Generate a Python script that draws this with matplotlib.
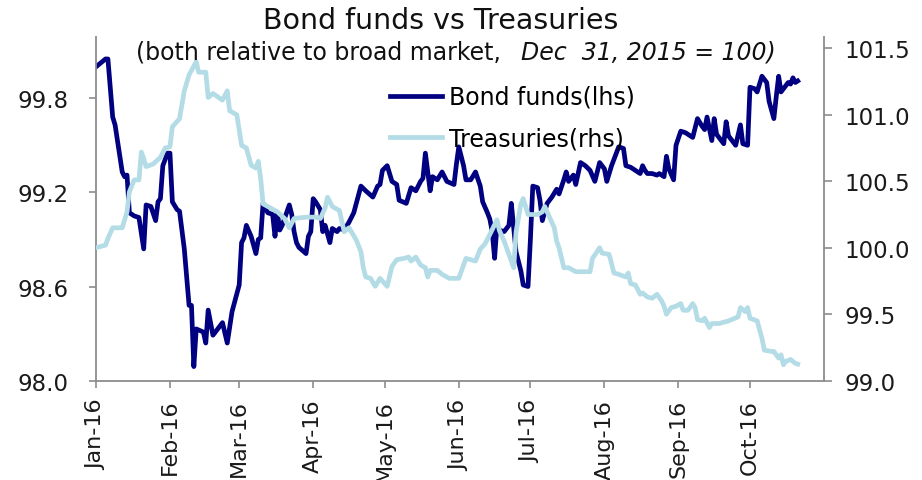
import pandas as pd
import matplotlib
matplotlib.use("Agg")
import matplotlib.pyplot as plt
import matplotlib.dates as mdates

# days since 2016-01-01 and index levels (Dec 31, 2015 = 100)
bond_days = [0, 4, 5, 7, 8, 11, 12, 13, 14, 16, 18, 20, 21, 23, 25, 26, 27, 28, 30, 31,
             32, 34, 35, 37, 39, 40, 41, 42, 45, 46, 47, 49, 53, 55, 57, 60, 61, 62, 63, 65,
             67, 68, 69, 70, 72, 74, 75, 76, 77, 78, 81, 82, 83, 84, 85, 88, 89, 90, 91, 92,
             94, 95, 96, 98, 99, 101, 102, 104, 106, 108, 111, 113, 116, 118, 119, 120, 122, 124, 126, 127,
             130, 131, 132, 134, 136, 137, 138, 140, 141, 143, 145, 147, 150, 151, 152, 154, 155, 157, 159, 161,
             162, 164, 165, 166, 167, 168, 169, 171, 173, 174, 176, 178, 179, 181, 182, 183, 185, 186, 187, 189,
             191, 193, 194, 196, 197, 198, 200, 201, 203, 205, 207, 209, 211, 213, 214, 216, 218, 219, 221, 222,
             224, 226, 228, 229, 230, 231, 233, 235, 236, 238, 239, 240, 242, 243, 245, 247, 250, 252, 254, 255,
             256, 258, 259, 260, 263, 264, 265, 268, 270, 271, 273, 274, 276, 277, 279, 281, 282, 284, 285, 286,
             287, 288, 290, 291, 292, 293, 294]
bond_vals = [100.00, 100.05, 100.05, 99.68, 99.63, 99.33, 99.30, 99.31, 99.07, 99.05, 99.04, 98.84, 99.12, 99.11, 99.02, 99.14, 99.16, 99.37, 99.45, 99.45,
             99.14, 99.09, 99.08, 98.84, 98.48, 98.48, 98.09, 98.33, 98.31, 98.24, 98.45, 98.29, 98.37, 98.24, 98.44, 98.61, 98.88, 98.91, 98.99, 98.92,
             98.81, 98.90, 98.91, 99.13, 99.07, 99.06, 98.92, 99.07, 98.96, 98.99, 99.12, 99.06, 98.95, 98.88, 98.85, 98.81, 98.92, 98.95, 99.16, 99.14,
             99.09, 98.95, 98.99, 98.88, 98.97, 98.95, 98.97, 98.96, 99.01, 99.07, 99.24, 99.21, 99.17, 99.24, 99.25, 99.34, 99.37, 99.27, 99.25, 99.15,
             99.13, 99.18, 99.23, 99.21, 99.27, 99.29, 99.45, 99.21, 99.30, 99.28, 99.33, 99.27, 99.25, 99.38, 99.49, 99.37, 99.28, 99.28, 99.33, 99.24,
             99.14, 99.07, 99.03, 98.95, 98.78, 98.99, 98.96, 98.95, 98.99, 99.13, 98.82, 98.70, 98.61, 98.60, 98.90, 99.24, 99.23, 99.15, 99.02, 99.13,
             99.17, 99.22, 99.19, 99.28, 99.33, 99.27, 99.31, 99.25, 99.39, 99.37, 99.34, 99.27, 99.39, 99.35, 99.27, 99.37, 99.45, 99.49, 99.48, 99.37,
             99.36, 99.34, 99.32, 99.37, 99.34, 99.32, 99.32, 99.31, 99.32, 99.30, 99.43, 99.35, 99.28, 99.50, 99.59, 99.58, 99.55, 99.67, 99.62, 99.60,
             99.68, 99.53, 99.67, 99.57, 99.51, 99.65, 99.56, 99.50, 99.63, 99.51, 99.50, 99.87, 99.86, 99.84, 99.94, 99.90, 99.78, 99.67, 99.81, 99.94,
             99.84, 99.86, 99.90, 99.89, 99.93, 99.90, 99.91]

tsy_days = [0, 4, 5, 7, 11, 13, 14, 16, 18, 19, 20, 21, 24, 27, 29, 31, 32, 35, 37, 39,
            42, 43, 46, 47, 49, 53, 55, 56, 59, 61, 63, 65, 67, 68, 69, 70, 73, 76, 79, 81,
            83, 88, 92, 94, 96, 97, 99, 102, 104, 106, 109, 111, 112, 113, 115, 117, 119, 122, 124, 126,
            129, 131, 132, 134, 136, 138, 139, 140, 143, 145, 148, 152, 155, 157, 159, 161, 163, 165, 168, 169,
            171, 173, 175, 176, 178, 179, 181, 183, 185, 187, 188, 190, 192, 193, 194, 196, 198, 201, 207, 208,
            211, 212, 215, 217, 219, 222, 223, 224, 226, 228, 229, 231, 233, 235, 237, 238, 239, 241, 243, 245,
            246, 248, 250, 251, 252, 254, 255, 257, 258, 261, 265, 269, 270, 272, 273, 274, 277, 279, 280, 283,
            284, 286, 287, 288, 289, 291, 293, 294]
tsy_vals = [100.00, 100.02, 100.07, 100.15, 100.15, 100.27, 100.42, 100.51, 100.51, 100.72, 100.67, 100.61, 100.63, 100.68, 100.75, 100.76, 100.91, 100.97, 101.18, 101.30,
            101.40, 101.32, 101.32, 101.13, 101.16, 101.11, 101.18, 101.03, 101.00, 100.77, 100.75, 100.62, 100.60, 100.65, 100.52, 100.33, 100.30, 100.27, 100.22, 100.15,
            100.22, 100.23, 100.23, 100.22, 100.30, 100.38, 100.31, 100.28, 100.12, 100.15, 100.06, 99.97, 99.85, 99.78, 99.77, 99.71, 99.77, 99.71, 99.86, 99.91,
            99.92, 99.93, 99.90, 99.93, 99.87, 99.85, 99.78, 99.83, 99.83, 99.80, 99.77, 99.77, 99.92, 99.91, 99.90, 99.99, 100.03, 100.10, 100.21, 100.13,
            100.05, 99.95, 99.85, 100.12, 100.33, 100.37, 100.25, 100.25, 100.25, 100.27, 100.31, 100.23, 100.15, 100.05, 100.00, 99.85, 99.85, 99.82, 99.82, 99.92,
            100.00, 99.96, 99.95, 99.81, 99.80, 99.78, 99.81, 99.73, 99.72, 99.65, 99.66, 99.63, 99.62, 99.65, 99.60, 99.56, 99.50, 99.55, 99.56, 99.58,
            99.53, 99.53, 99.58, 99.55, 99.46, 99.45, 99.47, 99.40, 99.43, 99.43, 99.45, 99.48, 99.55, 99.52, 99.55, 99.47, 99.45, 99.32, 99.23, 99.22,
            99.22, 99.17, 99.195, 99.12, 99.145, 99.16, 99.13, 99.125]

start = pd.Timestamp("2016-01-01")
bond_dates = start + pd.to_timedelta(bond_days, unit="D")
tsy_dates = start + pd.to_timedelta(tsy_days, unit="D")
month_ticks = pd.date_range("2016-01-01", "2016-10-01", freq="MS")

navy = "#000080"
light = "#b4dce6"
grey = "#8c8c8c"
ink = "#1a1a1a"
font = "DejaVu Sans"

fig = plt.figure(figsize=(9.22, 4.81), dpi=100)
ax = fig.add_axes([0.1041, 0.2064, 0.7896, 0.7146])
ax2 = ax.twinx()

l1, = ax.plot(bond_dates, bond_vals, color=navy, lw=3.4)
l2, = ax2.plot(tsy_dates, tsy_vals, color=light, lw=3.4)

ax.set_xlim(pd.Timestamp("2016-01-01"), pd.Timestamp("2016-11-01"))
ax.set_ylim(98.0, 100.19)
ax2.set_ylim(99.0, 101.585)
ax.set_yticks([98.0, 98.6, 99.2, 99.8])
ax2.set_yticks([99.0, 99.5, 100.0, 100.5, 101.0, 101.5])
ax.yaxis.set_major_formatter(matplotlib.ticker.FormatStrFormatter("%.1f"))
ax2.yaxis.set_major_formatter(matplotlib.ticker.FormatStrFormatter("%.1f"))
ax.set_xticks(month_ticks)
ax.xaxis.set_major_formatter(mdates.DateFormatter("%b-%y"))

for a in (ax, ax2):
    a.spines["top"].set_visible(False)
    for s in ("left", "right", "bottom"):
        a.spines[s].set_color(grey)
        a.spines[s].set_linewidth(1.3)
ax.spines["right"].set_visible(False)
ax2.spines["left"].set_visible(False)
ax2.spines["bottom"].set_visible(False)

ax.tick_params(axis="y", length=5, width=1.2, color=grey, pad=15, labelsize=16.5, labelcolor=ink)
ax.tick_params(axis="x", length=5, width=1.2, color=grey, pad=8, labelsize=16, labelcolor=ink, labelrotation=90)
ax2.tick_params(axis="y", length=6, width=1.2, color=grey, pad=9, labelsize=16.5, labelcolor=ink)
for lab in ax.get_xticklabels() + ax.get_yticklabels() + ax2.get_yticklabels():
    lab.set_fontfamily(font)

fig.text(0.478, 0.957, "Bond funds vs Treasuries", ha="center", va="center",
         fontsize=20.5, family=font, color="#111111")
fig.text(136 / 922, 0.890, "(both relative to broad market,", ha="left", va="center",
         fontsize=17, family=font, color="#111111")
fig.text(521 / 922, 0.890, "Dec  31, 2015 = 100)", ha="left", va="center",
         fontsize=17, family=font, style="italic", color="#111111")

ax2.legend([l1, l2], ["Bond funds(lhs)", "Treasuries(rhs)"], loc="upper left",
           bbox_to_anchor=(390 / 922, 1 - 86 / 481), bbox_transform=fig.transFigure,
           frameon=False, prop={"family": font, "size": 17},
           handlelength=2.2, handletextpad=0.3, labelspacing=0.72,
           borderpad=0, borderaxespad=0)

fig.savefig("out.png", dpi=100)
